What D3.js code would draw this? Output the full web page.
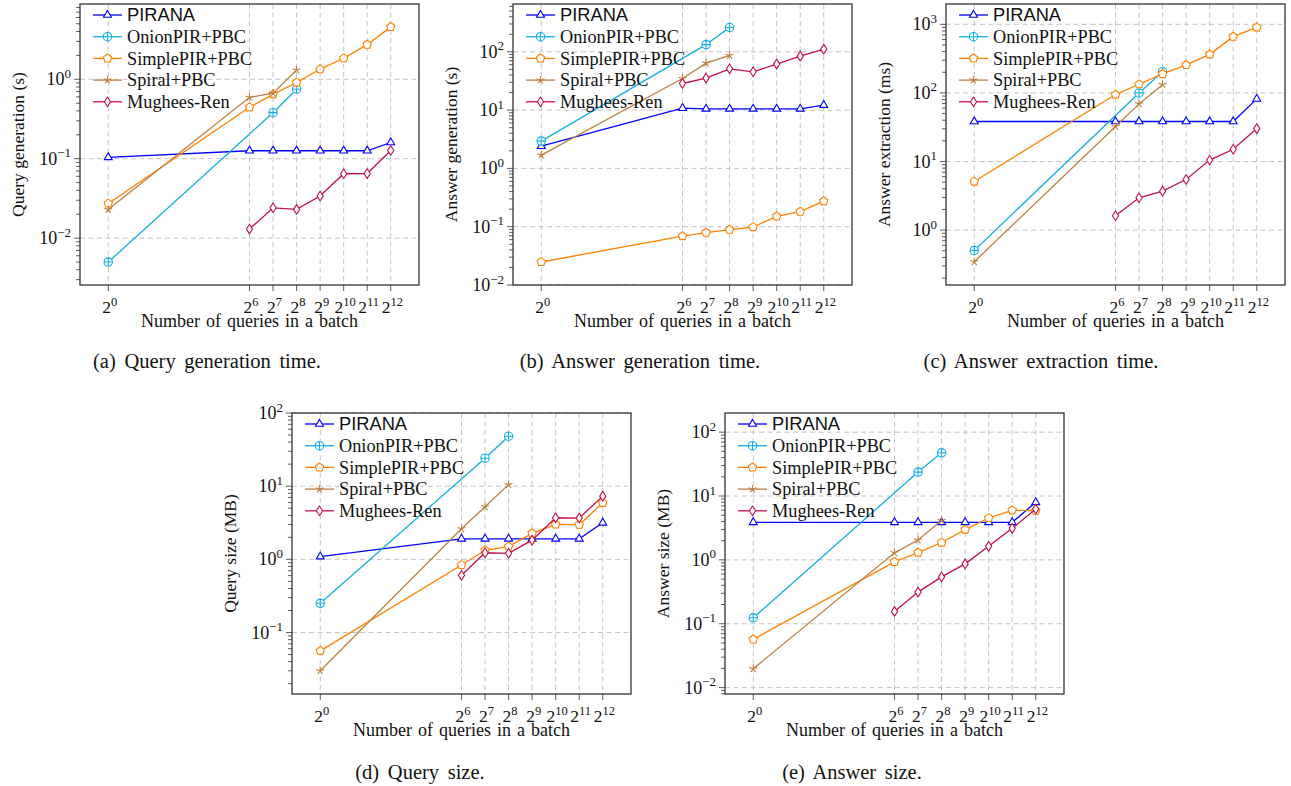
<!DOCTYPE html>
<html>
<head>
<meta charset="utf-8">
<script src="https://cdn.jsdelivr.net/npm/d3@7"></script>
<style>
  html, body { margin: 0; padding: 0; background: #fff; }
  svg { display: block; }
</style>
</head>
<body>
<svg id="chart" width="1291" height="786"></svg>
<script>
// batch sizes (x values) used by each method
const batchAll = [1, 64, 128, 256, 512, 1024, 2048, 4096]
const batchOnion = [1, 128, 256]
const batchSpiral = [1, 64, 128, 256]
const batchMughees = [64, 128, 256, 512, 1024, 2048, 4096]
// x tick exponents (2^k)
const xTickExp = [0, 6, 7, 8, 9, 10, 11, 12]

const seriesNames = ['PIRANA', 'OnionPIR+PBC', 'SimplePIR+PBC', 'Spiral+PBC', 'Mughees-Ren']

// (a) query generation time (s)
const queryGenPirana = [0.104, 0.126, 0.126, 0.126, 0.126, 0.126, 0.126, 0.16]
const queryGenOnion = [0.005, 0.38, 0.75]
const queryGenSimple = [0.0273, 0.444, 0.647, 0.91, 1.34, 1.84, 2.73, 4.57]
const queryGenSpiral = [0.023, 0.593, 0.667, 1.31]
const queryGenMughees = [0.013, 0.0241, 0.023, 0.0339, 0.0647, 0.065, 0.127]

// (b) answer generation time (s)
const answerGenPirana = [2.41, 10.8, 10.5, 10.5, 10.5, 10.5, 10.5, 12.2]
const answerGenOnion = [2.94, 133, 261]
const answerGenSimple = [0.0248, 0.069, 0.079, 0.089, 0.0987, 0.15, 0.181, 0.275]
const answerGenSpiral = [1.69, 34.9, 63.9, 86.5]
const answerGenMughees = [28.6, 35.4, 51.1, 45.4, 61.5, 84.3, 111]

// (c) answer extraction time (ms)
const extractPirana = [38.3, 38.3, 38.3, 38.3, 38.3, 38.3, 38.3, 81.8]
const extractOnion = [0.506, 100, 204]
const extractSimple = [5.11, 94.6, 133.7, 189, 256, 365, 661, 904]
const extractSpiral = [0.346, 32.3, 69.2, 132]
const extractMughees = [1.62, 2.96, 3.7, 5.47, 10.5, 15.1, 30.2]

// (d) query size (MB)
const querySizePirana = [1.09, 1.91, 1.91, 1.91, 1.91, 1.91, 1.91, 3.16]
const querySizeOnion = [0.251, 24.1, 48.1]
const querySizeSimple = [0.0562, 0.837, 1.33, 1.5, 2.26, 3.0, 2.97, 5.93]
const querySizeSpiral = [0.03, 2.62, 5.23, 10.5]
const querySizeMughees = [0.605, 1.23, 1.21, 1.83, 3.7, 3.66, 7.31]

// (e) answer size (MB)
const answerSizePirana = [3.88, 3.88, 3.88, 3.88, 3.88, 3.88, 3.88, 7.96]
const answerSizeOnion = [0.124, 23.7, 47.5]
const answerSizeSimple = [0.0569, 0.93, 1.3, 1.87, 2.98, 4.53, 5.97, 5.9]
const answerSizeSpiral = [0.0198, 1.29, 2.05, 4.12]
const answerSizeMughees = [0.156, 0.313, 0.542, 0.866, 1.63, 3.12, 6.26]

const SERIF = '"Liberation Serif", "Times New Roman", serif'
const SANS = '"Liberation Sans", Arial, sans-serif'

// style for each method (colour + pgf-like marker)
const styles = {
  'PIRANA': { color: '#0000ff', mark: 'triangle', font: SANS },
  'OnionPIR+PBC': { color: '#14aee5', mark: 'oplus', font: SERIF },
  'SimplePIR+PBC': { color: '#ff8000', mark: 'pentagon', font: SERIF },
  'Spiral+PBC': { color: '#bf8040', mark: 'star', font: SERIF },
  'Mughees-Ren': { color: '#c31048', mark: 'diamond', font: SERIF }
}

const xsFor = {
  'PIRANA': batchAll,
  'OnionPIR+PBC': batchOnion,
  'SimplePIR+PBC': batchAll,
  'Spiral+PBC': batchSpiral,
  'Mughees-Ren': batchMughees
}

const zip = (xs, ys) => xs.map((x, i) => ({ x, y: ys[i] }))

const panels = [
  {
    left: 80, top: 4, yExt: [-2.59, 0.948],
    yLabel: 'Query generation (s)', caption: '(a) Query generation time.', capX: 207, capY: 368,
    values: [queryGenPirana, queryGenOnion, queryGenSimple, queryGenSpiral, queryGenMughees]
  },
  {
    left: 513, top: 4, yExt: [-2, 2.82],
    yLabel: 'Answer generation (s)', caption: '(b) Answer generation time.', capX: 640, capY: 368,
    values: [answerGenPirana, answerGenOnion, answerGenSimple, answerGenSpiral, answerGenMughees]
  },
  {
    left: 946, top: 4, yExt: [-0.8, 3.296],
    yLabel: 'Answer extraction (ms)', caption: '(c) Answer extraction time.', capX: 1041, capY: 368,
    values: [extractPirana, extractOnion, extractSimple, extractSpiral, extractMughees]
  },
  {
    left: 292, top: 413, yExt: [-1.84, 2],
    yLabel: 'Query size (MB)', caption: '(d) Query size.', capX: 420, capY: 779,
    values: [querySizePirana, querySizeOnion, querySizeSimple, querySizeSpiral, querySizeMughees]
  },
  {
    left: 725, top: 413, yExt: [-2.1, 2.3],
    yLabel: 'Answer size (MB)', caption: '(e) Answer size.', capX: 852, capY: 779,
    values: [answerSizePirana, answerSizeOnion, answerSizeSimple, answerSizeSpiral, answerSizeMughees]
  }
]

const W = 339
const H = 281

const markPath = (type) => {
  const r = 4.2
  const poly = (n, rad, rot) => d3.range(n).map((k) => {
    const a = rot + (2 * Math.PI * k) / n
    return [rad * Math.cos(a), rad * Math.sin(a)]
  })
  if (type === 'triangle') {
    return 'M' + poly(3, 4.6, -Math.PI / 2).join('L') + 'Z'
  }
  if (type === 'pentagon') {
    return 'M' + poly(5, 4.4, -Math.PI / 2).join('L') + 'Z'
  }
  if (type === 'diamond') {
    return 'M0,-4.8L3.1,0L0,4.8L-3.1,0Z'
  }
  if (type === 'star') {
    return poly(5, r, -Math.PI / 2).map((p) => `M0,0L${p[0]},${p[1]}`).join('')
  }
  // oplus
  return `M${-r},0A${r},${r} 0 1,0 ${r},0A${r},${r} 0 1,0 ${-r},0Z` +
    `M${-r},0L${r},0M0,${-r}L0,${r}`
}

const drawMark = (g, type, color) => {
  g.append('path')
    .attr('d', markPath(type))
    .attr('fill', type === 'star' ? 'none' : '#fff')
    .attr('stroke', color)
    .attr('stroke-width', 1.1)
}

const svg = d3.select('#chart')

panels.forEach((p) => {
  const x = d3.scaleLog().base(2)
    .domain([Math.pow(2, -1.2), Math.pow(2, 13.2)])
    .range([0, W])
  const y = d3.scaleLog()
    .domain([Math.pow(10, p.yExt[0]), Math.pow(10, p.yExt[1])])
    .range([H, 0])

  const g = svg.append('g').attr('transform', `translate(${p.left},${p.top})`)

  // major / minor y ticks
  const lo = Math.ceil(p.yExt[0])
  const hi = Math.floor(p.yExt[1])
  const majors = d3.range(lo, hi + 1)
  const minors = []
  d3.range(Math.floor(p.yExt[0]), Math.ceil(p.yExt[1]) + 1).forEach((e) => {
    for (let m = 2; m <= 9; m++) {
      const v = m * Math.pow(10, e)
      const lv = Math.log10(v)
      if (lv >= p.yExt[0] && lv <= p.yExt[1]) minors.push(v)
    }
  })

  // grid
  const grid = g.append('g')
    .attr('stroke', '#c4c4c4')
    .attr('stroke-width', 1)
    .attr('stroke-dasharray', '5,3.5')
  grid.selectAll('.gx').data(xTickExp).join('line')
    .attr('x1', (k) => x(Math.pow(2, k))).attr('x2', (k) => x(Math.pow(2, k)))
    .attr('y1', 0).attr('y2', H)
  grid.selectAll('.gy').data(majors).join('line')
    .attr('x1', 0).attr('x2', W)
    .attr('y1', (e) => y(Math.pow(10, e))).attr('y2', (e) => y(Math.pow(10, e)))

  // ticks, outside
  const ticks = g.append('g').attr('stroke', '#333').attr('stroke-width', 0.8)
  ticks.selectAll('.mj').data(majors).join('line')
    .attr('x1', -6).attr('x2', 0)
    .attr('y1', (e) => y(Math.pow(10, e))).attr('y2', (e) => y(Math.pow(10, e)))
  ticks.selectAll('.mn').data(minors).join('line')
    .attr('x1', -4).attr('x2', 0)
    .attr('y1', (v) => y(v)).attr('y2', (v) => y(v))
  ticks.selectAll('.xt').data(xTickExp).join('line')
    .attr('x1', (k) => x(Math.pow(2, k))).attr('x2', (k) => x(Math.pow(2, k)))
    .attr('y1', H).attr('y2', H + 6)

  // y tick labels 10^e
  g.append('g').selectAll('text').data(majors).join('text')
    .attr('x', -9)
    .attr('y', (e) => y(Math.pow(10, e)) + 6)
    .attr('text-anchor', 'end')
    .attr('font-family', SERIF)
    .attr('font-size', 18)
    .attr('fill', '#111')
    .each(function (e) {
      const t = d3.select(this)
      t.append('tspan').text('10')
      t.append('tspan').attr('dy', -7.5).attr('font-size', 13)
        .text(e < 0 ? '\u2212' + Math.abs(e) : String(e))
    })

  // x tick labels 2^k
  g.append('g').selectAll('text').data(xTickExp).join('text')
    .attr('x', (k) => x(Math.pow(2, k)) + 1.5)
    .attr('y', H + 28)
    .attr('text-anchor', 'middle')
    .attr('font-family', SERIF)
    .attr('font-size', 17.5)
    .attr('fill', '#111')
    .each(function (k) {
      const t = d3.select(this)
      t.append('tspan').text('2')
      t.append('tspan').attr('dy', -7.5).attr('font-size', 12.5).text(String(k))
    })

  // axis labels
  g.append('text')
    .attr('x', W / 2).attr('y', H + 42)
    .attr('text-anchor', 'middle')
    .attr('font-family', SERIF).attr('font-size', 18).attr('fill', '#111')
    .attr('word-spacing', 1.5)
    .text('Number of queries in a batch')
  g.append('text')
    .attr('transform', `translate(-56,${H / 2}) rotate(-90)`)
    .attr('text-anchor', 'middle')
    .attr('font-family', SERIF).attr('font-size', 17.5).attr('fill', '#111')
    .text(p.yLabel)

  // series
  const line = d3.line().x((d) => x(d.x)).y((d) => y(d.y))
  seriesNames.forEach((name, i) => {
    const st = styles[name]
    const data = zip(xsFor[name], p.values[i])
    g.append('path')
      .datum(data)
      .attr('d', line)
      .attr('fill', 'none')
      .attr('stroke', st.color)
      .attr('stroke-width', 1.3)
    data.forEach((d) => {
      const mg = g.append('g').attr('transform', `translate(${x(d.x)},${y(d.y)})`)
      drawMark(mg, st.mark, st.color)
    })
  })

  // legend (no frame)
  const leg = g.append('g').attr('transform', 'translate(13,11)')
  seriesNames.forEach((name, i) => {
    const st = styles[name]
    const row = leg.append('g').attr('transform', `translate(0,${i * 21.7})`)
    row.append('line')
      .attr('x1', 0).attr('x2', 29).attr('y1', 0).attr('y2', 0)
      .attr('stroke', st.color).attr('stroke-width', 1.3)
    drawMark(row.append('g').attr('transform', 'translate(14.5,0)'), st.mark, st.color)
    row.append('text')
      .attr('x', 34).attr('y', 6.3)
      .attr('font-family', st.font).attr('font-size', 18.3).attr('fill', '#111')
      .text(name)
  })

  // frame
  g.append('rect')
    .attr('width', W).attr('height', H)
    .attr('fill', 'none').attr('stroke', '#333').attr('stroke-width', 1.3)

  // caption
  svg.append('text')
    .attr('x', p.capX).attr('y', p.capY)
    .attr('text-anchor', 'middle')
    .attr('font-family', SERIF).attr('font-size', 20.5).attr('fill', '#111')
    .attr('word-spacing', 3.5)
    .text(p.caption)
})
</script>
</body>
</html>
